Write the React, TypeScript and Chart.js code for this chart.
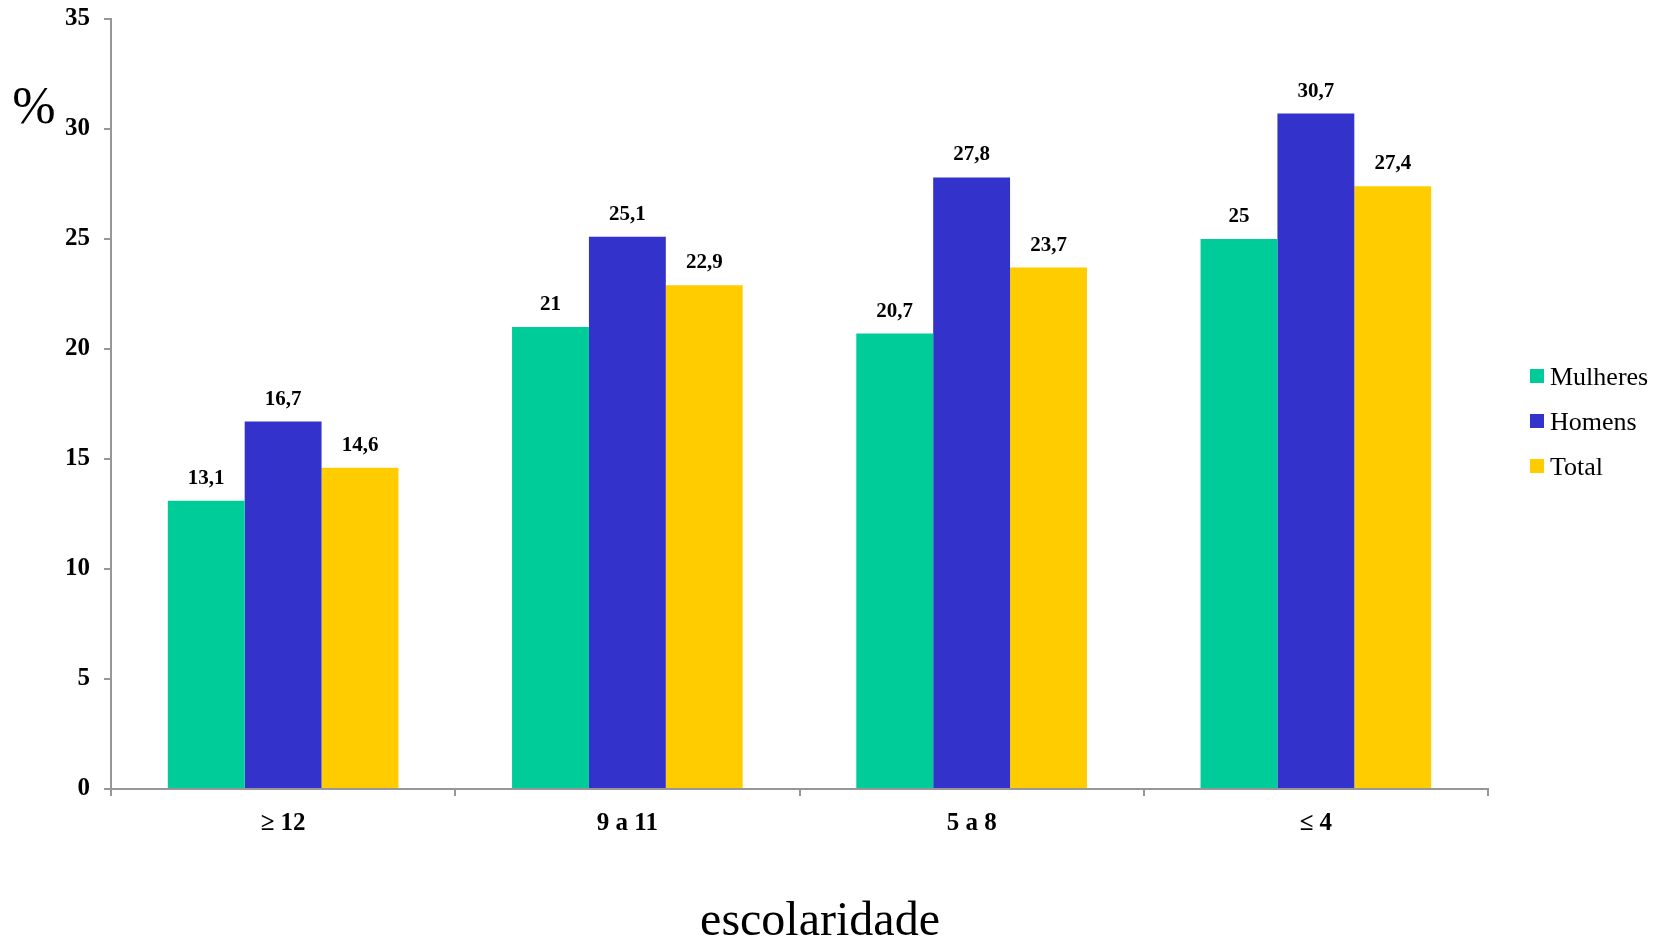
import React, { useEffect, useRef } from "react";
import { Chart, registerables } from "chart.js";

Chart.register(...registerables);

const categories = ["≥ 12", "9 a 11", "5 a 8", "≤ 4"];
const mulheres = [13.1, 21, 20.7, 25];
const homens = [16.7, 25.1, 27.8, 30.7];
const total = [14.6, 22.9, 23.7, 27.4];
const seriesNames = ["Mulheres", "Homens", "Total"];
const seriesColors = ["#00CC99", "#3333CC", "#FFCC00"];
const yMin = 0;
const yMax = 35;
const yStep = 5;
const xTitle = "escolaridade";
const yTitle = "%";

const SERIF = '"Times New Roman", "Liberation Serif", serif';
const AXIS_GRAY = "#979797";

const fmt = (v: number) => String(v).replace(".", ",");

const labelsPlugin = {
  id: "customTexts",
  afterDatasetsDraw(chart: any) {
    const ctx = chart.ctx;
    ctx.save();
    // data labels
    ctx.font = `bold 21px ${SERIF}`;
    ctx.fillStyle = "#000";
    ctx.textAlign = "center";
    ctx.textBaseline = "alphabetic";
    chart.data.datasets.forEach((ds: any, di: number) => {
      const meta = chart.getDatasetMeta(di);
      meta.data.forEach((el: any, i: number) => {
        ctx.fillText(fmt(ds.data[i]), el.x, el.y - 17);
      });
    });

    // legend
    const area = chart.chartArea;
    const boxX = area.right + 42;
    const startY = 369;
    const rowGap = 45;
    chart.data.datasets.forEach((ds: any, di: number) => {
      const y = startY + di * rowGap;
      ctx.fillStyle = ds.backgroundColor;
      ctx.fillRect(boxX, y, 14, 14);
      ctx.fillStyle = "#000";
      ctx.font = `26px ${SERIF}`;
      ctx.textAlign = "left";
      ctx.textBaseline = "alphabetic";
      ctx.fillText(ds.label, boxX + 20, y + 16);
    });

    // y title "%"
    ctx.font = `52px ${SERIF}`;
    ctx.textAlign = "center";
    ctx.textBaseline = "alphabetic";
    ctx.fillText(yTitle, 34, 123);

    // x title
    ctx.font = `48px ${SERIF}`;
    ctx.fillText(xTitle, 820, 935);
    ctx.restore();
  },
};

export default function App() {
  const canvasRef = useRef<HTMLCanvasElement | null>(null);

  useEffect(() => {
    if (!canvasRef.current) return;
    const data = [mulheres, homens, total];
    const chart = new Chart(canvasRef.current, {
      type: "bar",
      data: {
        labels: categories,
        datasets: seriesNames.map((name, i) => ({
          label: name,
          data: data[i],
          backgroundColor: seriesColors[i],
          borderWidth: 0,
          barPercentage: 1,
          categoryPercentage: 0.67,
        })),
      },
      options: {
        responsive: true,
        maintainAspectRatio: false,
        animation: false,
        layout: { padding: { top: 12, left: 51, right: 173, bottom: 85 } },
        plugins: {
          legend: { display: false },
          tooltip: { enabled: false },
        },
        scales: {
          x: {
            grid: {
              offset: true,
              drawOnChartArea: false,
              drawTicks: true,
              tickLength: 7,
              color: AXIS_GRAY,
              lineWidth: 2,
            },
            border: { color: AXIS_GRAY, width: 2 },
            ticks: {
              color: "#000",
              font: { family: SERIF, size: 25, weight: "bold", lineHeight: 1.2 },
              padding: 13,
            },
          },
          y: {
            min: yMin,
            max: yMax,
            ticks: {
              stepSize: yStep,
              color: "#000",
              font: { family: SERIF, size: 25, weight: "bold", lineHeight: 0.4 },
              padding: 14,
            },
            grid: {
              drawOnChartArea: false,
              drawTicks: true,
              tickLength: 7,
              color: AXIS_GRAY,
              lineWidth: 2,
            },
            border: { color: AXIS_GRAY, width: 2 },
          },
        },
      },
      plugins: [labelsPlugin],
    });
    return () => chart.destroy();
  }, []);

  return (
    <div style={{ position: "absolute", left: 0, top: 0, width: 1661, height: 937, background: "#fff" }}>
      <canvas ref={canvasRef} />
    </div>
  );
}
